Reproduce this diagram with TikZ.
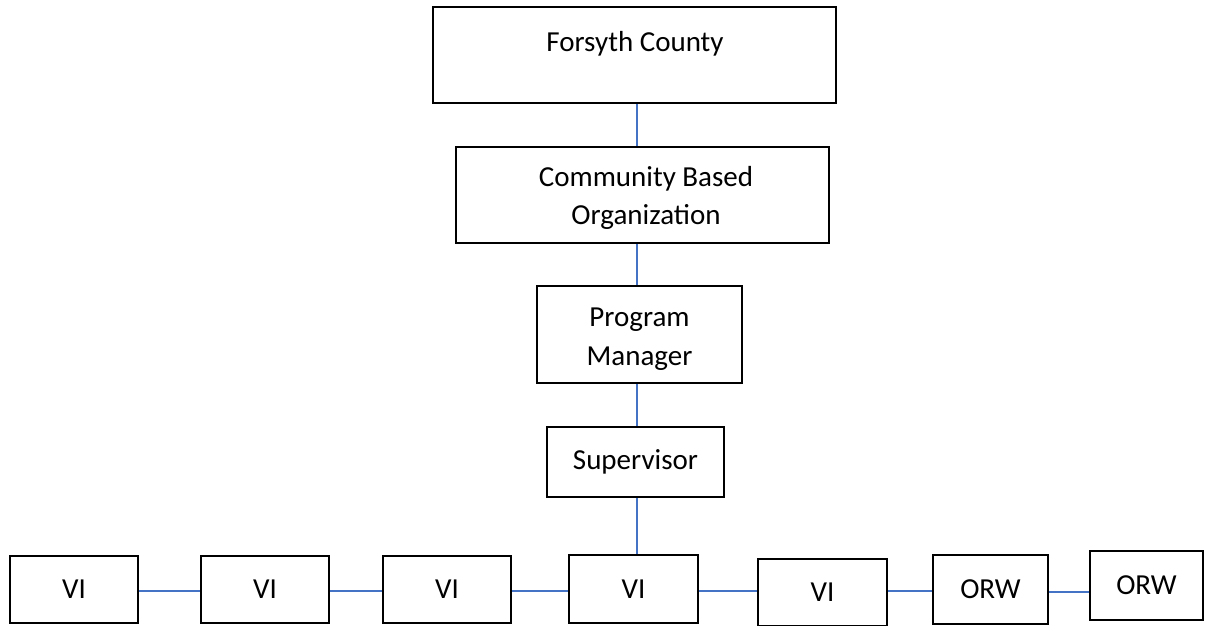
\documentclass[tikz,border=0pt]{standalone}
\usepackage{fontspec}
\setmainfont{Carlito}
\definecolor{linkblue}{HTML}{4472C4}
\tikzset{
  box/.style={draw=black, line width=1.8pt, fill=white, inner sep=0pt, align=center,
    font=\fontsize{29}{38.5}\selectfont},
  lbl/.style={inner sep=0pt, align=center, font=\fontsize{29}{38.5}\selectfont},
  link/.style={draw=linkblue, line width=1.3pt},
}
\newcommand{\bx}[6]{% name, cx, cy, w, h, text
  \node[box, minimum width=#4pt, minimum height=#5pt] (#1) at (#2pt,#3pt) {#6};}
\begin{document}
\begin{tikzpicture}
\useasboundingbox (0,0) rectangle (1205pt,626pt);
\coordinate (vx) at (637pt,0);
% top chain
\bx{fc}{634.5}{571}{403}{96}{}
\node[lbl] (fctext) at (635pt,582pt) {Forsyth County};
\bx{cbo}{642.5}{431}{373}{96}{}
\node[lbl] (cbotext) at (646pt,428pt) {Community Based\\Organization};
\bx{pm}{639.5}{291.5}{205}{97}{}
\node[lbl] (pmtext) at (639.5pt,287pt) {Program\\Manager};
\bx{sup}{635.5}{164}{177}{70}{Supervisor}
% bottom row
\bx{vi1}{74}{36.5}{128}{67}{VI}
\bx{vi2}{265}{36.5}{128}{67}{VI}
\bx{vi3}{447}{36.5}{128}{67}{VI}
\bx{vi4}{633.5}{37}{129}{68}{VI}
\bx{vi5}{822.5}{33.5}{129}{67}{VI}
\bx{orw1}{990.5}{36.5}{115}{69}{ORW}
\bx{orw2}{1146.5}{40.5}{113}{69}{ORW}
% vertical links
\draw[link] (fc.south -| vx) -- (cbo.north -| vx);
\draw[link] (cbo.south -| vx) -- (pm.north -| vx);
\draw[link] (pm.south -| vx) -- (sup.north -| vx);
\draw[link] (sup.south -| vx) -- (vi4.north -| vx);
% horizontal links
\coordinate (hy) at (0,35pt);
\coordinate (hy2) at (0,34pt);
\draw[link] (vi1.east |- hy) -- (vi2.west |- hy);
\draw[link] (vi2.east |- hy) -- (vi3.west |- hy);
\draw[link] (vi3.east |- hy) -- (vi4.west |- hy);
\draw[link] (vi4.east |- hy) -- (vi5.west |- hy);
\draw[link] (vi5.east |- hy) -- (orw1.west |- hy);
\draw[link] (orw1.east |- hy2) -- (orw2.west |- hy2);
\end{tikzpicture}
\end{document}
